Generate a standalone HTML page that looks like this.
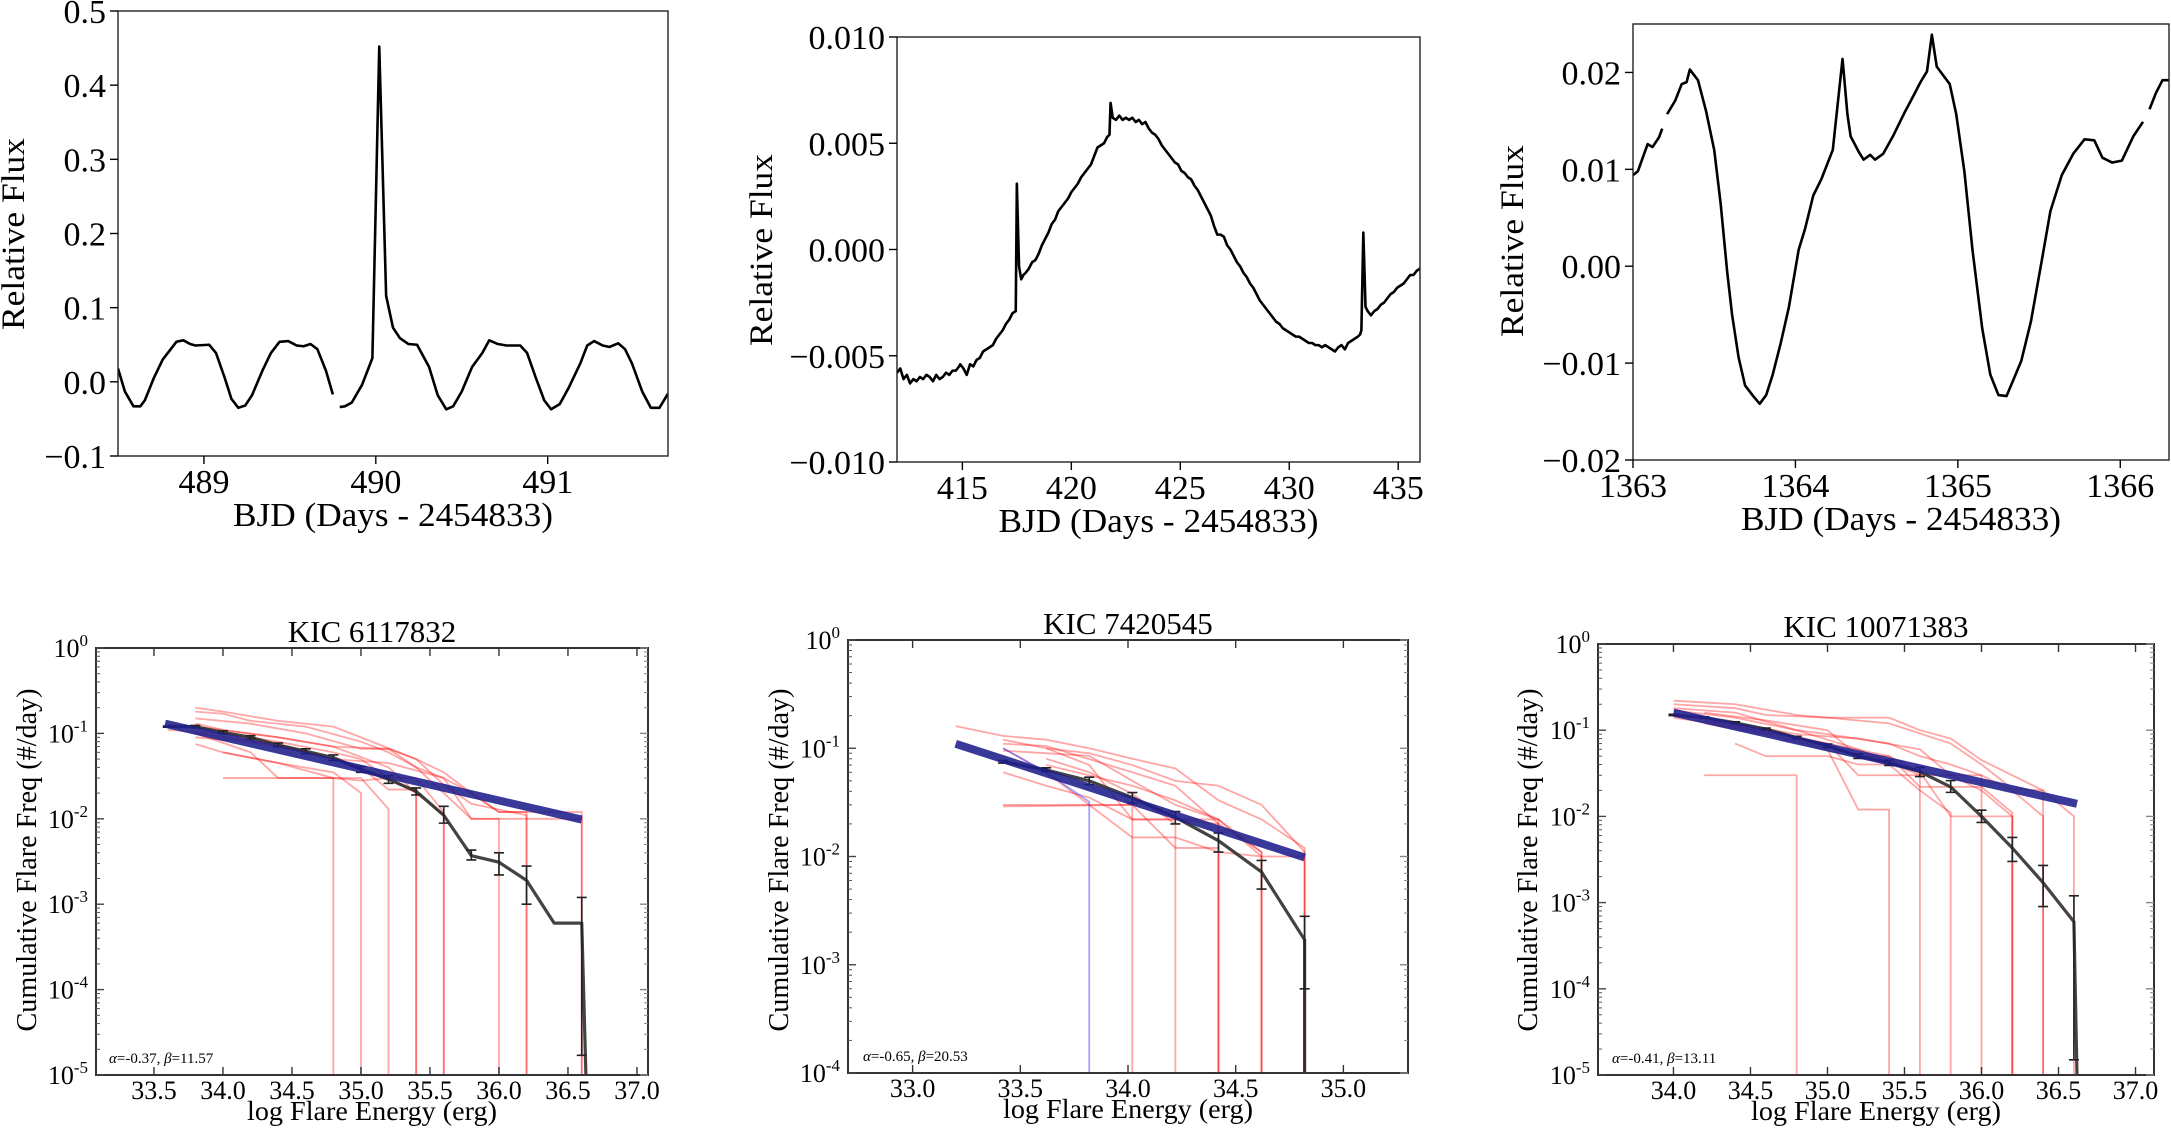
<!DOCTYPE html>
<html><head><meta charset="utf-8"><style>
html,body{margin:0;padding:0;background:#fff;}
svg{display:block;}
text{font-family:"Liberation Serif","DejaVu Serif",serif;fill:#000;}
</style></head>
<body>
<svg id="fig" xmlns="http://www.w3.org/2000/svg" width="2171" height="1130" viewBox="0 0 2171 1130"></svg>
<script>
// ---------- Top panel 1 data ----------
const p1X=[488.5,488.54,488.59,488.63,488.656,488.71,488.76,488.84,488.88,488.92,488.95,489.03,489.07,489.12,489.16,489.2,489.24,489.28,489.34,489.39,489.44,489.49,489.54,489.58,489.62,489.66,489.71,489.75,489.77,489.79,489.82,489.86,489.92,489.98,490.02,490.06,490.10,490.14,490.19,490.24,490.31,490.36,490.41,490.45,490.50,490.56,490.62,490.66,490.71,490.76,490.84,490.88,490.93,490.98,491.02,491.07,491.12,491.19,491.23,491.27,491.32,491.36,491.41,491.45,491.49,491.55,491.60,491.65,491.70];
const p1Y=[0.018,-0.013,-0.033,-0.033,-0.025,0.006,0.030,0.054,0.056,0.051,0.049,0.050,0.039,0.006,-0.023,-0.035,-0.032,-0.018,0.015,0.039,0.054,0.055,0.049,0.048,0.051,0.044,0.015,-0.017,null,-0.034,-0.033,-0.028,-0.004,0.032,0.452,0.116,0.073,0.059,0.051,0.050,0.020,-0.018,-0.037,-0.033,-0.013,0.020,0.039,0.056,0.051,0.049,0.049,0.039,0.006,-0.025,-0.037,-0.030,-0.009,0.025,0.049,0.055,0.049,0.047,0.052,0.044,0.025,-0.013,-0.035,-0.035,-0.016];
const p1XTicks=[489,490,491];
const p1XLabels=["489","490","491"];
const p1YTicks=[-0.1,0,0.1,0.2,0.3,0.4,0.5];
const p1YLabels=["\u22120.1","0.0","0.1","0.2","0.3","0.4","0.5"];
// ---------- Top panel 2 data ----------
const p2X=[412.0,412.15,412.3,412.45,412.6,412.75,412.9,413.05,413.2,413.35,413.5,413.65,413.8,413.95,414.1,414.25,414.4,414.55,414.7,414.85,414.9,415.05,415.2,415.35,415.5,415.65,415.8,415.95,416.1,416.25,416.4,416.55,416.7,416.85,417.0,417.15,417.3,417.45,417.5,417.6,417.7,417.8,417.9,418.05,418.2,418.35,418.5,418.65,418.8,418.95,419.1,419.25,419.4,419.55,419.7,419.85,420.0,420.15,420.3,420.45,420.6,420.75,420.9,421.05,421.2,421.35,421.5,421.65,421.75,421.8,421.9,422.05,422.2,422.35,422.5,422.65,422.8,422.95,423.1,423.25,423.4,423.55,423.7,423.85,424.0,424.15,424.3,424.45,424.6,424.75,424.9,425.05,425.2,425.35,425.5,425.65,425.8,425.95,426.1,426.25,426.4,426.55,426.7,426.85,427.0,427.15,427.3,427.45,427.6,427.75,427.9,428.05,428.2,428.35,428.5,428.65,428.8,428.95,429.1,429.25,429.4,429.55,429.7,429.85,430.0,430.15,430.3,430.45,430.6,430.75,430.9,431.05,431.2,431.35,431.5,431.65,431.8,431.95,432.1,432.25,432.4,432.55,432.7,432.85,433.0,433.15,433.25,433.31,433.4,433.5,433.6,433.75,433.9,434.05,434.2,434.35,434.5,434.65,434.8,434.95,435.1,435.25,435.4,435.55,435.7,435.85,436.0];
const p2Y=[-0.0058,-0.0056,-0.0061,-0.0059,-0.0063,-0.0061,-0.0062,-0.0060,-0.0061,-0.0059,-0.0060,-0.0062,-0.0059,-0.0061,-0.0060,-0.0058,-0.0059,-0.0057,-0.0057,-0.0055,-0.0054,-0.0056,-0.0059,-0.0054,-0.0055,-0.0052,-0.0051,-0.0048,-0.0047,-0.0046,-0.0045,-0.0042,-0.0040,-0.0038,-0.0035,-0.0033,-0.0030,-0.0029,0.0031,-0.0008,-0.0014,-0.0012,-0.0011,-0.0009,-0.0006,-0.0005,-0.0002,0.0002,0.0005,0.0008,0.0012,0.0014,0.0018,0.0020,0.0022,0.0024,0.0027,0.0029,0.0031,0.0034,0.0036,0.0038,0.0040,0.0044,0.0048,0.0049,0.0050,0.0053,0.0054,0.0069,0.0062,0.0061,0.0063,0.0061,0.0062,0.0061,0.0062,0.0060,0.0061,0.0059,0.0060,0.0057,0.0055,0.0054,0.0052,0.0049,0.0047,0.0045,0.0043,0.0041,0.0040,0.0037,0.0036,0.0034,0.0033,0.0030,0.0028,0.0025,0.0022,0.0019,0.0016,0.0011,0.0007,0.0007,0.0006,0.0002,0.0000,-0.0003,-0.0006,-0.0008,-0.0011,-0.0013,-0.0016,-0.0018,-0.0021,-0.0024,-0.0026,-0.0028,-0.0030,-0.0032,-0.0034,-0.0035,-0.0037,-0.0038,-0.0039,-0.0040,-0.0041,-0.0041,-0.0042,-0.0043,-0.0044,-0.0044,-0.0045,-0.0045,-0.0046,-0.0045,-0.0046,-0.0047,-0.0048,-0.0046,-0.0045,-0.0047,-0.0044,-0.0043,-0.0042,-0.0041,-0.0040,-0.0038,0.0008,-0.0027,-0.0029,-0.0031,-0.0029,-0.0028,-0.0026,-0.0025,-0.0023,-0.0021,-0.0020,-0.0018,-0.0017,-0.0016,-0.0014,-0.0012,-0.0012,-0.0010,-0.0009,-0.0011];
const p2XTicks=[415,420,425,430,435];
const p2XLabels=["415","420","425","430","435"];
const p2YTicks=[-0.01,-0.005,0,0.005,0.01];
const p2YLabels=["\u22120.010","\u22120.005","0.000","0.005","0.010"];
// ---------- Top panel 3 data ----------
const p3X=[1363.0,1363.03,1363.06,1363.09,1363.12,1363.16,1363.18,1363.195,1363.21,1363.26,1363.30,1363.33,1363.35,1363.40,1363.45,1363.50,1363.54,1363.58,1363.61,1363.65,1363.69,1363.74,1363.78,1363.82,1363.86,1363.91,1363.96,1364.02,1364.06,1364.11,1364.16,1364.23,1364.29,1364.32,1364.34,1364.39,1364.42,1364.46,1364.49,1364.54,1364.60,1364.67,1364.73,1364.77,1364.81,1364.84,1364.87,1364.91,1364.95,1364.99,1365.04,1365.09,1365.15,1365.20,1365.25,1365.30,1365.33,1365.39,1365.45,1365.52,1365.57,1365.64,1365.71,1365.78,1365.84,1365.89,1365.95,1366.01,1366.08,1366.14,1366.16,1366.18,1366.22,1366.26,1366.30];
const p3Y=[0.0094,0.0098,0.0112,0.0126,0.0123,0.0133,0.0142,null,0.0157,0.0171,0.0188,0.0190,0.0203,0.0192,0.0160,0.0120,0.0064,-0.0006,-0.0050,-0.0094,-0.0123,-0.0134,-0.0142,-0.0133,-0.0112,-0.0079,-0.0042,0.0017,0.0039,0.0073,0.0090,0.0120,0.0214,0.0157,0.0134,0.0118,0.0110,0.0115,0.0110,0.0116,0.0134,0.0158,0.0177,0.0190,0.0201,0.0239,0.0206,0.0197,0.0188,0.0157,0.0098,0.0017,-0.0064,-0.0112,-0.0133,-0.0134,-0.0122,-0.0098,-0.0057,0.0009,0.0057,0.0094,0.0116,0.0131,0.0130,0.0112,0.0107,0.0109,0.0134,0.0149,null,0.0162,0.0179,0.0192,0.0192];
const p3XTicks=[1363,1364,1365,1366];
const p3XLabels=["1363","1364","1365","1366"];
const p3YTicks=[-0.02,-0.01,0,0.01,0.02];
const p3YLabels=["\u22120.02","\u22120.01","0.00","0.01","0.02"];
// ---------- Bottom panel 4 data (KIC 6117832) ----------
const p4X=[33.6,33.8,34.0,34.2,34.4,34.6,34.8,35.0,35.2,35.4,35.6,35.8,36.0,36.2,36.4,36.6,36.63];
const p4Y=[0.12,0.12,0.103,0.09,0.073,0.062,0.052,0.038,0.029,0.021,0.011,0.0037,0.0031,0.0019,0.0006,0.0006,0.00001];
const p4ErrLo=[0.118,0.116,0.099,0.086,0.07,0.058,0.048,0.035,0.026,0.019,0.0089,0.0033,0.0022,0.001,null,0.000017,null];
const p4ErrHi=[0.122,0.124,0.107,0.094,0.077,0.066,0.056,0.041,0.032,0.023,0.014,0.0043,0.004,0.0028,null,0.0012,null];
const p4FitX=[33.58,36.6];
const p4FitY=[0.13,0.0098];
const p4RedX=[[33.8,34.0,34.4,34.8,35.0,35.4,35.6,35.8,36.0,36.6],[33.8,34.0,34.2,34.6,35.0,35.2,35.4,35.6,35.8,36.0],[33.8,34.2,34.6,35.0,35.2,35.4,35.6,35.8,36.2],[33.8,34.0,34.4,34.8,35.2,35.4,35.6],[33.6,34.0,34.4,34.8,35.0,35.2,35.4],[33.8,34.0,34.4,34.8,35.0,35.2,35.4,35.6],[34.0,34.8],[33.8,34.2,34.6,35.0,35.2,35.4],[33.8,34.2,34.4,34.6,35.0,35.2],[34.0,34.4,34.8,35.0],[33.8,34.4,34.8,35.2,35.4,35.6,35.8,36.0,36.2],[33.8,34.4,34.8,35.2,35.6,35.8,36.2,36.6]];
const p4RedY=[[0.2,0.18,0.14,0.12,0.09,0.05,0.035,0.02,0.012,0.012],[0.18,0.17,0.14,0.12,0.08,0.06,0.04,0.02,0.01,0.01],[0.15,0.13,0.1,0.066,0.066,0.05,0.025,0.015,0.011],[0.13,0.11,0.09,0.07,0.04,0.02,0.011],[0.11,0.1,0.08,0.06,0.05,0.03,0.02],[0.075,0.06,0.045,0.03,0.028,0.03,0.03,0.012],[0.03,0.03],[0.09,0.08,0.06,0.04,0.022,0.022],[0.1,0.06,0.03,0.03,0.03,0.013],[0.06,0.045,0.035,0.02],[0.12,0.09,0.07,0.066,0.04,0.03,0.02,0.012,0.012],[0.1,0.075,0.05,0.045,0.03,0.01,0.01,0.01]];
const p4XTicks=[33.5,34.0,34.5,35.0,35.5,36.0,36.5,37.0];
const p4XLabels=["33.5","34.0","34.5","35.0","35.5","36.0","36.5","37.0"];
const p4YExp=[-5,-4,-3,-2,-1,0];
// ---------- Bottom panel 5 data (KIC 7420545) ----------
const p5X=[33.42,33.62,33.82,34.02,34.22,34.42,34.62,34.82,34.82];
const p5Y=[0.075,0.063,0.05,0.035,0.023,0.014,0.0072,0.0017,0.0001];
const p5ErrLo=[0.073,0.061,0.046,0.031,0.02,0.011,0.005,0.0006,null];
const p5ErrHi=[0.077,0.066,0.054,0.039,0.026,0.0165,0.0092,0.0028,null];
const p5FitX=[33.2,34.82];
const p5FitY=[0.11,0.0098];
const p5BlueX=[33.42,33.62,33.82];
const p5BlueY=[0.1,0.06,0.032];
const p5RedX=[[33.2,33.42,33.62,33.82,34.02,34.22,34.42,34.62,34.82],[33.42,33.62,33.82,34.02,34.22,34.42,34.62,34.82],[33.42,33.62,34.02,34.22,34.42,34.62],[33.42,33.82,34.02,34.22,34.42,34.62],[33.42,33.62,33.82,34.02,34.22,34.42],[33.42,33.82,34.02,34.22,34.42,34.62,34.82],[33.42,34.02,34.22,34.42],[33.62,34.02,34.22,34.42,34.62],[33.62,33.82,34.02,34.22],[33.42,33.62,33.82,34.02],[33.62,33.82,34.02,34.22,34.42]];
const p5RedY=[[0.16,0.13,0.12,0.1,0.08,0.065,0.033,0.022,0.012],[0.12,0.1,0.09,0.07,0.05,0.045,0.03,0.011],[0.11,0.105,0.06,0.045,0.02,0.011],[0.095,0.085,0.05,0.03,0.022,0.011],[0.06,0.045,0.035,0.022,0.022,0.022],[0.03,0.03,0.015,0.015,0.011,0.01,0.01],[0.029,0.03,0.012,0.012],[0.07,0.045,0.033,0.022,0.01],[0.08,0.06,0.038,0.02],[0.1,0.06,0.03,0.03],[0.1,0.07,0.022,0.022,0.02]];
const p5XTicks=[33.0,33.5,34.0,34.5,35.0];
const p5XLabels=["33.0","33.5","34.0","34.5","35.0"];
const p5YExp=[-4,-3,-2,-1,0];
// ---------- Bottom panel 6 data (KIC 10071383) ----------
const p6X=[34.0,34.2,34.4,34.6,34.8,35.0,35.2,35.4,35.6,35.8,36.0,36.2,36.4,36.6,36.62];
const p6Y=[0.15,0.14,0.122,0.103,0.082,0.066,0.05,0.042,0.033,0.022,0.01,0.0043,0.0017,0.0006,0.00001];
const p6ErrLo=[0.148,0.137,0.119,0.1,0.079,0.063,0.047,0.039,0.029,0.019,0.0085,0.003,0.0009,0.000015,null];
const p6ErrHi=[0.153,0.143,0.125,0.106,0.085,0.069,0.053,0.045,0.037,0.026,0.0118,0.0057,0.0027,0.0012,null];
const p6FitX=[34.0,36.62];
const p6FitY=[0.16,0.014];
const p6RedX=[[34.0,34.4,34.8,35.0,35.4,35.6,35.8,36.0,36.2,36.4,36.6],[34.0,34.4,34.6,35.0,35.4,35.8,36.0,36.2,36.4],[34.0,34.4,34.8,35.0,35.4,35.6,35.8,36.0,36.2,36.4],[34.2,34.6,35.0,35.2,35.4,35.6,35.8,36.2],[34.0,34.4,34.8,35.0,35.2,35.6,35.8,36.0],[34.2,34.6,35.0,35.2,35.4],[34.2,34.8],[34.4,34.6,35.0,35.2,35.4,35.6,35.8],[34.2,34.6,35.0,35.4,35.6,35.8,36.0,36.2],[34.0,34.4,34.8,35.2,35.6],[34.4,34.8,35.2,35.6,35.8,36.0,36.2]];
const p6RedY=[[0.22,0.2,0.15,0.14,0.14,0.1,0.08,0.045,0.03,0.02,0.01],[0.2,0.18,0.15,0.14,0.12,0.07,0.04,0.021,0.02],[0.18,0.16,0.1,0.09,0.07,0.05,0.04,0.03,0.02,0.01],[0.16,0.13,0.1,0.05,0.05,0.033,0.01,0.01],[0.14,0.11,0.08,0.07,0.03,0.03,0.03,0.03],[0.12,0.09,0.06,0.012,0.012],[0.03,0.03],[0.07,0.05,0.05,0.04,0.04,0.02,0.011],[0.13,0.1,0.07,0.05,0.022,0.022,0.022,0.011],[0.17,0.14,0.1,0.06,0.03],[0.12,0.09,0.08,0.06,0.03,0.02,0.01]];
const p6XTicks=[34.0,34.5,35.0,35.5,36.0,36.5,37.0];
const p6XLabels=["34.0","34.5","35.0","35.5","36.0","36.5","37.0"];
const p6YExp=[-5,-4,-3,-2,-1,0];

const NS="http://www.w3.org/2000/svg";
const svg=document.getElementById('fig');
function mk(tag,attrs,parent){const e=document.createElementNS(NS,tag);for(const k in attrs)e.setAttribute(k,attrs[k]);(parent||svg).appendChild(e);return e;}
function lin(d0,d1,r0,r1){return v=>r0+(v-d0)/(d1-d0)*(r1-r0);}
function lg(e0,e1,r0,r1){return v=>r0+(Math.log10(v)-e0)/(e1-e0)*(r1-r0);}
function pathFrom(xs,ys,sx,sy){let d="",pen=false;for(let i=0;i<xs.length;i++){if(ys[i]===null||ys[i]===undefined){pen=false;continue;}d+=(pen?"L":"M")+sx(xs[i]).toFixed(2)+","+sy(ys[i]).toFixed(2);pen=true;}return d;}
let clipN=0;
function clip(b){const id="c"+(clipN++);const cp=mk('clipPath',{id:id});mk('rect',{x:b.L,y:b.T,width:b.R-b.L,height:b.B-b.T},cp);return id;}

function topPanel(b,xd,yd,xs,ys,xt,xl,yt,yl,ylab,prefix){
  const g=mk('g',{});
  
  
  const sx=lin(xd[0],xd[1],b.L,b.R), sy=lin(yd[0],yd[1],b.B,b.T);
  const id=clip(b);
  const ln=mk('path',{d:pathFrom(xs,ys,sx,sy),fill:'none',stroke:'#000','stroke-width':2.6,'stroke-linejoin':'round','clip-path':'url(#'+id+')'},g);
  
  
  const fr=mk('rect',{x:b.L,y:b.T,width:b.R-b.L,height:b.B-b.T,fill:'none',stroke:'#222','stroke-width':1.4},g);
  
  
  xt.forEach((v,i)=>{const x=sx(v);mk('line',{x1:x,x2:x,y1:b.B,y2:b.B+8,stroke:'#000','stroke-width':1.4},g);
    const t=mk('text',{x:x,y:b.B+37,'font-size':34,'text-anchor':'middle'},g);t.textContent=xl[i];
    
    });
  yt.forEach((v,i)=>{const y=sy(v);mk('line',{x1:b.L-8,x2:b.L,y1:y,y2:y,stroke:'#000','stroke-width':1.4},g);
    const t=mk('text',{x:b.L-12,y:y+12,'font-size':34,'text-anchor':'end'},g);t.textContent=yl[i];
    
    });
  const xt2=mk('text',{x:(b.L+b.R)/2,y:b.B+70,'font-size':34,'text-anchor':'middle',textLength:320,lengthAdjust:'spacingAndGlyphs'},g);
  xt2.textContent="BJD (Days - 2454833)";
  
  
  const yt2=mk('text',{x:0,y:0,'font-size':33,'text-anchor':'middle',textLength:192,lengthAdjust:'spacingAndGlyphs',transform:'translate('+ylab.x+','+ylab.y+') rotate(-90)'},g);
  yt2.textContent="Relative Flux";
  
  
}

function botPanel(b,xd,ed,d,title,titleY,ann,ylabX,prefix){
  const g=mk('g',{});
  
  
  const sx=lin(xd[0],xd[1],b.L,b.R), sy=lg(ed[0],ed[1],b.B,b.T);
  const id=clip(b);
  const pg=mk('g',{'clip-path':'url(#'+id+')'},g);
  const ymin=Math.pow(10,ed[0]);
  d.redX.forEach((xs,i)=>{const ys=d.redY[i];
    const xx=xs.concat([xs[xs.length-1]]), yy=ys.concat([ymin*0.5]);
    const p=mk('path',{d:pathFrom(xx,yy,sx,sy),fill:'none',stroke:'#ff0000','stroke-opacity':0.35,'stroke-width':1.8},pg);
    
    });
  if(d.blueX){const xs=d.blueX,ys=d.blueY;
    const p=mk('path',{d:pathFrom(xs.concat([xs[xs.length-1]]),ys.concat([ymin*0.5]),sx,sy),fill:'none',stroke:'#3030ff','stroke-opacity':0.45,'stroke-width':1.8},pg);
    
    }
  const bl=mk('path',{d:pathFrom(d.x,d.y,sx,sy),fill:'none',stroke:'#222','stroke-opacity':0.85,'stroke-width':3.2,'stroke-linejoin':'round'},pg);
  
  
  d.x.forEach((v,i)=>{if(d.lo[i]===null||d.lo[i]===undefined)return;const x=sx(v),y1=sy(d.lo[i]),y2=sy(d.hi[i]);
    const eb=mk('path',{d:`M${x},${y1}L${x},${y2}M${x-5},${y1}L${x+5},${y1}M${x-5},${y2}L${x+5},${y2}`,stroke:'#222','stroke-width':1.6,fill:'none'},pg);
    
    });
  const fit=mk('path',{d:pathFrom(d.fitX,d.fitY,sx,sy),stroke:'#1e1e8c','stroke-opacity':0.88,'stroke-width':8,fill:'none'},pg);
  
  
  const fr=mk('rect',{x:b.L,y:b.T,width:b.R-b.L,height:b.B-b.T,fill:'none',stroke:'#333','stroke-width':2},g);
  
  
  d.xt.forEach((v,i)=>{const x=sx(v);
    mk('line',{x1:x,x2:x,y1:b.B,y2:b.B-8,stroke:'#333','stroke-width':1.4},g);
    mk('line',{x1:x,x2:x,y1:b.T,y2:b.T+8,stroke:'#333','stroke-width':1.4},g);
    const t=mk('text',{x:x,y:b.B+24,'font-size':26,'text-anchor':'middle'},g);t.textContent=d.xl[i];
    
    });
  d.ye.forEach(e=>{const y=sy(Math.pow(10,e));
    mk('line',{x1:b.L,x2:b.L+8,y1:y,y2:y,stroke:'#444','stroke-width':1.4},g);
    mk('line',{x1:b.R,x2:b.R-8,y1:y,y2:y,stroke:'#888','stroke-width':1.4},g);
    if(e<ed[1])for(let m=2;m<10;m++){const ym=sy(m*Math.pow(10,e));
      mk('line',{x1:b.L,x2:b.L+4,y1:ym,y2:ym,stroke:'#555','stroke-width':1},g);
      mk('line',{x1:b.R,x2:b.R-4,y1:ym,y2:ym,stroke:'#888','stroke-width':1},g);}
    const t=mk('text',{x:b.L-8,y:y+9,'font-size':26,'text-anchor':'end'},g);
    
    
    t.appendChild(document.createTextNode('10'));
    const s=mk('tspan',{dy:-11,'font-size':17},t);s.textContent=String(e);});
  const tt=mk('text',{x:(b.L+b.R)/2,y:titleY,'font-size':31,'text-anchor':'middle'},g);tt.textContent=title;
  
  
  const xl=mk('text',{x:(b.L+b.R)/2,y:b.B+45,'font-size':27,'text-anchor':'middle',textLength:250,lengthAdjust:'spacingAndGlyphs'},g);xl.textContent="log Flare Energy (erg)";
  
  
  const yl=mk('text',{x:0,y:0,'font-size':29,'text-anchor':'middle',textLength:343,lengthAdjust:'spacingAndGlyphs',transform:'translate('+ylabX+',860) rotate(-90)'},g);yl.textContent="Cumulative Flare Freq (#/day)";
  
  
  const an=mk('text',{x:ann.x,y:b.B-12,'font-size':15},g);
  
  
  const a1=mk('tspan',{'font-style':'italic'},an);a1.textContent='\u03b1';
  an.appendChild(document.createTextNode('='+ann.a+', '));
  const b1=mk('tspan',{'font-style':'italic'},an);b1.textContent='\u03b2';
  an.appendChild(document.createTextNode('='+ann.b));
}

topPanel({L:118,R:668,T:11,B:456},[488.5,491.7],[-0.1,0.5],p1X,p1Y,p1XTicks,p1XLabels,p1YTicks,p1YLabels,{x:24,y:234},'flux-panel-1');
topPanel({L:897,R:1420,T:37,B:462},[412,436],[-0.01,0.01],p2X,p2Y,p2XTicks,p2XLabels,p2YTicks,p2YLabels,{x:772,y:250},'flux-panel-2');
topPanel({L:1633,R:2169,T:24,B:460},[1363,1366.3],[-0.02,0.025],p3X,p3Y,p3XTicks,p3XLabels,p3YTicks,p3YLabels,{x:1523,y:241},'flux-panel-3');

botPanel({L:96,R:648,T:648,B:1075},[33.08,37.08],[-5,0],{x:p4X,y:p4Y,lo:p4ErrLo,hi:p4ErrHi,fitX:p4FitX,fitY:p4FitY,redX:p4RedX,redY:p4RedY,xt:p4XTicks,xl:p4XLabels,ye:p4YExp},"KIC 6117832",642,{x:109,a:'-0.37',b:'11.57'},36,'ffd-panel-1');
botPanel({L:848,R:1408,T:640,B:1073},[32.7,35.3],[-4,0],{x:p5X,y:p5Y,lo:p5ErrLo,hi:p5ErrHi,fitX:p5FitX,fitY:p5FitY,blueX:p5BlueX,blueY:p5BlueY,redX:p5RedX,redY:p5RedY,xt:p5XTicks,xl:p5XLabels,ye:p5YExp},"KIC 7420545",634,{x:863,a:'-0.65',b:'20.53'},788,'ffd-panel-2');
botPanel({L:1598,R:2154,T:644,B:1075},[33.51,37.12],[-5,0],{x:p6X,y:p6Y,lo:p6ErrLo,hi:p6ErrHi,fitX:p6FitX,fitY:p6FitY,redX:p6RedX,redY:p6RedY,xt:p6XTicks,xl:p6XLabels,ye:p6YExp},"KIC 10071383",637,{x:1612,a:'-0.41',b:'13.11'},1537,'ffd-panel-3');
</script>
</body></html>
